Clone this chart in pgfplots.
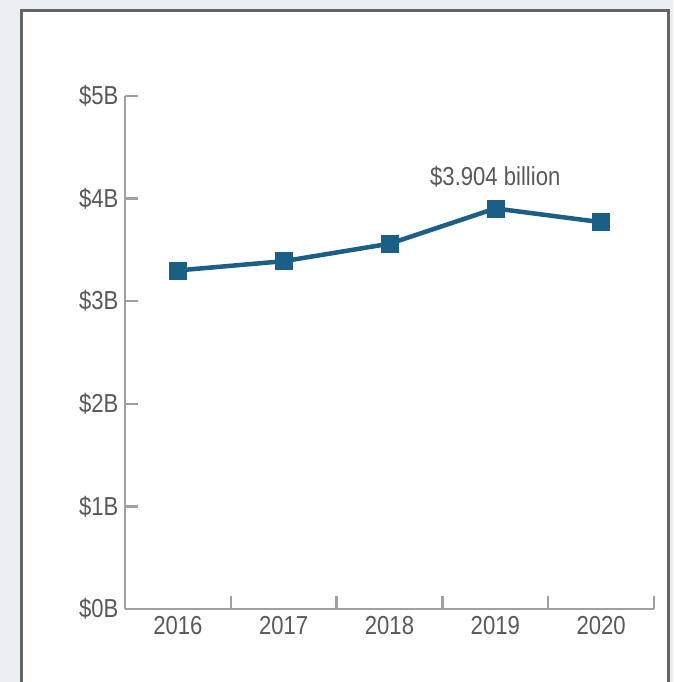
\documentclass[border=0pt]{standalone}
\usepackage{pgfplots}
\pgfplotsset{compat=1.18}
\usepackage{fontspec}
\setmainfont{Liberation Sans}[FakeStretch=0.85]
\definecolor{bgc}{HTML}{EBEFF2}
\definecolor{framec}{HTML}{646464}
\definecolor{axc}{HTML}{A0A0A2}
\definecolor{txt}{HTML}{595959}
\definecolor{linec}{HTML}{1B5E86}

\begin{document}
\begin{tikzpicture}[x=1pt,y=1pt]
\useasboundingbox (0,0) rectangle (673,682);
\fill[bgc] (0,0) rectangle (673,682);
\fill[white] (21.5,-5) rectangle (668.5,671.5);
\draw[framec, line width=3pt] (21.5,-5) -- (21.5,671.5) -- (668.5,671.5) -- (668.5,-5);

\begin{axis}[
    at={(125pt,73pt)}, anchor=south west,
    scale only axis, width=529pt, height=513pt,
    xmin=-0.5, xmax=4.5, ymin=0, ymax=5,
    axis lines=left,
    axis line style={-, draw=axc, line width=2.5pt},
    tick align=inside,
    major tick length=13pt,
    tick style={draw=axc, line width=2.5pt},
    xtick={0.5,1.5,2.5,3.5,4.5},
    xticklabels={},
    extra x ticks={0,1,2,3,4},
    extra x tick labels={2016,2017,2018,2019,2020},
    extra x tick style={major tick length=0pt, xticklabel style={yshift=-4pt}},
    ytick={0,1,2,3,4,5},
    yticklabels={\$0B,\$1B,\$2B,\$3B,\$4B,\$5B},
    ticklabel style={txt, font=\fontsize{26}{30}\selectfont},
    yticklabel style={xshift=-3pt},
    clip=false,
]
\addplot[linec, line width=4.5pt, mark=square*,
    mark options={fill=linec, draw=linec, line width=0.5pt}, mark size=8.5pt]
    coordinates {(0,3.30) (1,3.39) (2,3.56) (3,3.904) (4,3.77)};
\node[txt, anchor=base, yshift=23pt, font=\fontsize{26}{30}\selectfont]
    at (axis cs:3,3.904) {\$3.904 billion};
\end{axis}
\end{tikzpicture}
\end{document}
